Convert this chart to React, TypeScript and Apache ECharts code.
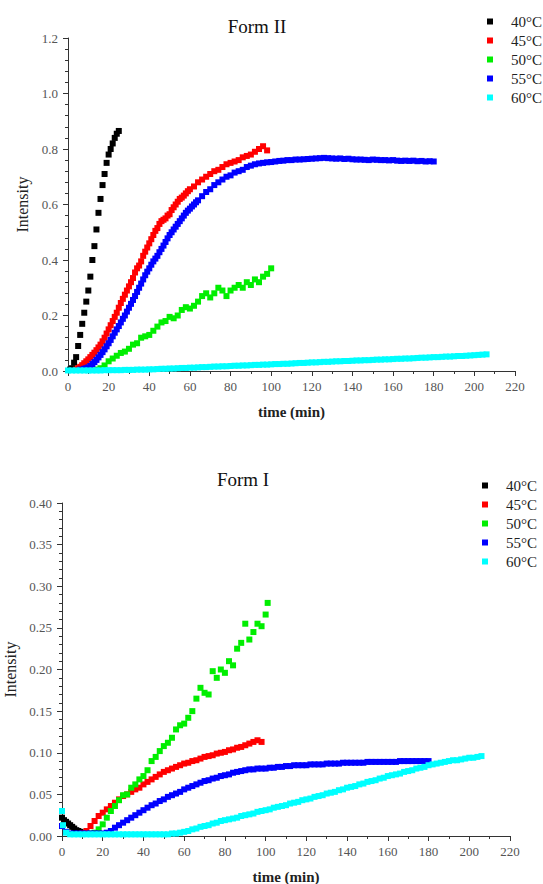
import React, { useEffect, useRef } from "react";
import * as echarts from "echarts";

// ---------- data: Form II ----------
const names = ["40°C", "45°C", "50°C", "55°C", "60°C"];
const colors = ["#000000", "#ff0000", "#00ee00", "#0000ff", "#00ffff"];
const xTicks = { min: 0, max: 220, interval: 20 };

const f2_40: number[][] = [[1,0.005],[2,0.01],[3,0.03],[4,0.05],[5,0.09],[6,0.13],[7,0.17],[8,0.21],[9,0.25],[10,0.29],[11,0.34],[12,0.40],[13,0.45],[14,0.51],[15,0.57],[16,0.62],[17,0.67],[18,0.71],[19,0.75],[20,0.78],[21,0.80],[22,0.82],[23,0.84],[24,0.855],[25,0.865]];
const f2_45: number[][] = [[4,0.005],[5,0.01],[6,0.015],[7,0.021],[8,0.028],[9,0.035],[10,0.042],[11,0.05],[12,0.058],[13,0.066],[14,0.075],[15,0.085],[16,0.095],[17,0.107],[18,0.12],[19,0.135],[20,0.15],[21,0.165],[22,0.18],[23,0.195],[24,0.21],[25,0.228],[26,0.245],[27,0.26],[28,0.275],[29,0.29],[30,0.305],[31,0.32],[32,0.335],[33,0.355],[34,0.37],[35,0.38],[36,0.395],[37,0.415],[38,0.43],[39,0.445],[40,0.46],[41,0.475],[42,0.49],[43,0.505],[44,0.515],[45,0.53],[46,0.54],[47,0.545],[48,0.55],[49,0.56],[50,0.565],[51,0.58],[52,0.59],[53,0.60],[54,0.61],[55,0.62],[56,0.625],[57,0.632],[58,0.64],[59,0.648],[60,0.655],[62,0.665],[64,0.68],[66,0.69],[68,0.70],[70,0.71],[72,0.72],[74,0.725],[76,0.735],[78,0.745],[80,0.75],[82,0.755],[84,0.76],[86,0.77],[88,0.775],[90,0.78],[92,0.79],[94,0.80],[96,0.81],[98,0.795]];
const f2_50: number[][] = [[14,0.005],[16,0.01],[18,0.02],[20,0.035],[22,0.045],[24,0.055],[26,0.065],[28,0.07],[30,0.08],[32,0.095],[34,0.10],[36,0.12],[38,0.125],[40,0.13],[42,0.145],[44,0.16],[46,0.175],[48,0.18],[50,0.195],[52,0.19],[54,0.20],[56,0.22],[58,0.23],[60,0.225],[62,0.235],[64,0.25],[66,0.27],[68,0.28],[70,0.265],[72,0.28],[74,0.30],[76,0.29],[78,0.27],[80,0.29],[82,0.30],[84,0.31],[86,0.30],[88,0.32],[90,0.31],[92,0.33],[94,0.32],[96,0.34],[98,0.35],[100,0.37]];
const f2_55: number[][] = [[6,0.005],[8,0.008],[9,0.01],[10,0.013],[11,0.018],[12,0.025],[13,0.032],[14,0.04],[15,0.049],[16,0.058],[17,0.068],[18,0.078],[19,0.089],[20,0.10],[21,0.112],[22,0.125],[23,0.138],[24,0.15],[25,0.162],[26,0.175],[27,0.188],[28,0.20],[29,0.214],[30,0.228],[31,0.242],[32,0.256],[33,0.27],[34,0.285],[35,0.30],[36,0.315],[37,0.33],[38,0.345],[39,0.358],[40,0.37],[41,0.383],[42,0.395],[43,0.405],[44,0.415],[45,0.428],[46,0.44],[47,0.452],[48,0.465],[49,0.478],[50,0.49],[51,0.50],[52,0.51],[53,0.52],[54,0.53],[55,0.54],[56,0.55],[57,0.56],[58,0.57],[59,0.578],[60,0.585],[61,0.593],[62,0.60],[63,0.608],[64,0.615],[66,0.63],[68,0.645],[70,0.655],[72,0.67],[74,0.68],[76,0.69],[78,0.70],[80,0.705],[82,0.715],[84,0.72],[86,0.725],[88,0.735],[90,0.74],[92,0.745],[94,0.748],[96,0.75],[98,0.752],[100,0.753],[102,0.755],[104,0.757],[106,0.758],[108,0.76],[110,0.76],[112,0.762],[114,0.762],[116,0.763],[118,0.764],[120,0.765],[122,0.766],[124,0.767],[126,0.768],[128,0.767],[130,0.766],[132,0.765],[134,0.766],[136,0.764],[138,0.765],[140,0.763],[142,0.762],[144,0.762],[146,0.761],[148,0.76],[150,0.762],[152,0.761],[154,0.76],[156,0.76],[158,0.759],[160,0.76],[162,0.758],[164,0.757],[166,0.758],[168,0.757],[170,0.758],[172,0.756],[174,0.757],[176,0.755],[178,0.756],[180,0.755]];
const f2_60: number[][] = [[0,0.002],[2,0.002],[4,0.002],[6,0.002],[8,0.002],[10,0.002],[12,0.002],[14,0.002],[16,0.002],[18,0.003],[20,0.003],[22,0.003],[24,0.003],[26,0.003],[28,0.004],[30,0.004],[32,0.004],[34,0.005],[36,0.005],[38,0.005],[40,0.006],[42,0.006],[44,0.007],[46,0.008],[48,0.008],[50,0.009],[52,0.009],[54,0.010],[56,0.011],[58,0.011],[60,0.012],[62,0.012],[64,0.013],[66,0.014],[68,0.014],[70,0.015],[72,0.016],[74,0.016],[76,0.017],[78,0.017],[80,0.018],[82,0.019],[84,0.019],[86,0.020],[88,0.020],[90,0.021],[92,0.022],[94,0.022],[96,0.023],[98,0.023],[100,0.024],[102,0.025],[104,0.025],[106,0.026],[108,0.026],[110,0.027],[112,0.028],[114,0.029],[116,0.029],[118,0.030],[120,0.031],[122,0.031],[124,0.032],[126,0.033],[128,0.033],[130,0.034],[132,0.035],[134,0.035],[136,0.036],[138,0.036],[140,0.037],[142,0.038],[144,0.038],[146,0.039],[148,0.039],[150,0.040],[152,0.041],[154,0.041],[156,0.042],[158,0.042],[160,0.043],[162,0.044],[164,0.044],[166,0.045],[168,0.045],[170,0.046],[172,0.047],[174,0.048],[176,0.048],[178,0.049],[180,0.050],[182,0.050],[184,0.051],[186,0.052],[188,0.052],[190,0.053],[192,0.054],[194,0.054],[196,0.055],[198,0.056],[200,0.057],[202,0.058],[204,0.059],[206,0.060]];

// ---------- data: Form I ----------
const f1_40: number[][] = [[0,0.022],[1,0.019],[2,0.017],[3,0.015],[4,0.013],[5,0.011],[6,0.009],[7,0.007],[8,0.006],[9,0.005],[10,0.004]];
const f1_45: number[][] = [[10,0.003],[12,0.006],[14,0.012],[16,0.018],[18,0.024],[20,0.028],[22,0.032],[24,0.036],[26,0.040],[28,0.044],[30,0.048],[32,0.050],[34,0.053],[36,0.056],[38,0.058],[40,0.062],[42,0.065],[44,0.068],[46,0.071],[48,0.074],[50,0.077],[52,0.079],[54,0.081],[56,0.083],[58,0.085],[60,0.087],[62,0.088],[64,0.090],[66,0.091],[68,0.093],[70,0.095],[72,0.096],[74,0.097],[76,0.099],[78,0.100],[80,0.101],[82,0.103],[84,0.104],[86,0.106],[88,0.107],[90,0.109],[92,0.111],[94,0.113],[96,0.115],[98,0.113]];
const f1_50: number[][] = [[14,0.003],[16,0.004],[18,0.008],[20,0.014],[22,0.022],[24,0.030],[26,0.036],[28,0.043],[30,0.049],[32,0.050],[34,0.058],[36,0.062],[38,0.068],[40,0.072],[42,0.079],[44,0.090],[46,0.095],[48,0.102],[50,0.108],[52,0.112],[54,0.118],[56,0.128],[58,0.133],[60,0.135],[62,0.142],[64,0.150],[66,0.165],[68,0.178],[70,0.172],[72,0.170],[74,0.198],[76,0.190],[78,0.200],[80,0.196],[82,0.210],[84,0.205],[86,0.225],[88,0.232],[90,0.255],[92,0.236],[94,0.245],[96,0.255],[98,0.252],[100,0.266],[101,0.280]];
const f1_55: number[][] = [[0,0.012],[2,0.005],[4,0.003],[6,0.003],[8,0.003],[10,0.003],[12,0.003],[14,0.003],[16,0.003],[18,0.003],[20,0.003],[22,0.004],[24,0.006],[26,0.010],[28,0.013],[30,0.016],[32,0.019],[34,0.022],[36,0.025],[38,0.028],[40,0.031],[42,0.034],[44,0.037],[46,0.039],[48,0.042],[50,0.044],[52,0.047],[54,0.049],[56,0.051],[58,0.053],[60,0.056],[62,0.058],[64,0.060],[66,0.062],[68,0.064],[70,0.066],[72,0.067],[74,0.069],[76,0.070],[78,0.072],[80,0.073],[82,0.074],[84,0.076],[86,0.077],[88,0.078],[90,0.079],[92,0.080],[94,0.080],[96,0.081],[98,0.081],[100,0.081],[102,0.082],[104,0.082],[106,0.083],[108,0.083],[110,0.084],[112,0.084],[114,0.085],[116,0.085],[118,0.085],[120,0.085],[122,0.086],[124,0.086],[126,0.086],[128,0.086],[130,0.087],[132,0.087],[134,0.087],[136,0.087],[138,0.088],[140,0.088],[142,0.088],[144,0.088],[146,0.088],[148,0.088],[150,0.089],[152,0.089],[154,0.089],[156,0.089],[158,0.089],[160,0.089],[162,0.089],[164,0.089],[166,0.090],[168,0.090],[170,0.090],[172,0.090],[174,0.090],[176,0.090],[178,0.090],[180,0.090]];
const f1_60: number[][] = [[0,0.030],[0.5,0.013],[2,0.004],[4,0.002],[6,0.002],[8,0.002],[10,0.002],[12,0.002],[14,0.002],[16,0.002],[18,0.002],[20,0.002],[22,0.002],[24,0.002],[26,0.002],[28,0.002],[30,0.002],[32,0.002],[34,0.002],[36,0.002],[38,0.002],[40,0.002],[42,0.002],[44,0.002],[46,0.002],[48,0.002],[50,0.002],[52,0.002],[54,0.003],[56,0.003],[58,0.004],[60,0.005],[62,0.006],[64,0.008],[66,0.009],[68,0.011],[70,0.012],[72,0.013],[74,0.015],[76,0.016],[78,0.018],[80,0.019],[82,0.020],[84,0.021],[86,0.022],[88,0.024],[90,0.025],[92,0.026],[94,0.027],[96,0.029],[98,0.030],[100,0.031],[102,0.032],[104,0.034],[106,0.035],[108,0.036],[110,0.037],[112,0.039],[114,0.040],[116,0.041],[118,0.043],[120,0.044],[122,0.045],[124,0.047],[126,0.048],[128,0.049],[130,0.051],[132,0.052],[134,0.053],[136,0.055],[138,0.056],[140,0.058],[142,0.059],[144,0.060],[146,0.062],[148,0.063],[150,0.065],[152,0.066],[154,0.067],[156,0.069],[158,0.070],[160,0.072],[162,0.073],[164,0.074],[166,0.075],[168,0.077],[170,0.078],[172,0.079],[174,0.081],[176,0.082],[178,0.083],[180,0.085],[182,0.086],[184,0.087],[186,0.088],[188,0.089],[190,0.090],[192,0.091],[194,0.091],[196,0.092],[198,0.093],[200,0.094],[202,0.094],[204,0.095],[206,0.096]];

const formII = [f2_40, f2_45, f2_50, f2_55, f2_60];
const formI = [f1_40, f1_45, f1_50, f1_55, f1_60];

const SERIF = "Liberation Serif";

function makeXAxis(gridIndex: number) {
  return {
    type: "value",
    gridIndex,
    min: xTicks.min,
    max: xTicks.max,
    interval: xTicks.interval,
    name: "time (min)",
    nameLocation: "middle",
    nameGap: 33,
    nameTextStyle: { fontFamily: SERIF, fontSize: 15, fontWeight: "bold", color: "#222" },
    axisLine: { show: true, lineStyle: { color: "#333", width: 1 } },
    axisTick: { show: true, length: 5, lineStyle: { color: "#333" } },
    minorTick: { show: true, splitNumber: 2, length: 3, lineStyle: { color: "#333" } },
    splitLine: { show: false },
    axisLabel: { fontFamily: SERIF, fontSize: 13, color: "#555", margin: 9 },
  };
}

function makeYAxis(gridIndex: number, max: number, interval: number, digits: number, nameGap: number) {
  return {
    type: "value",
    gridIndex,
    min: 0,
    max,
    interval,
    name: "Intensity",
    nameLocation: "middle",
    nameGap,
    nameTextStyle: { fontFamily: SERIF, fontSize: 16, color: "#222" },
    axisLine: { show: true, lineStyle: { color: "#333", width: 1 } },
    axisTick: { show: true, length: 5, lineStyle: { color: "#333" } },
    minorTick: { show: true, splitNumber: 5, length: 3, lineStyle: { color: "#333" } },
    splitLine: { show: false },
    axisLabel: {
      fontFamily: SERIF,
      fontSize: 13,
      color: "#555",
      margin: 10,
      formatter: (v: number) => v.toFixed(digits),
    },
  };
}

function makeSeries(sets: number[][][], axisIndex: number) {
  return sets.map((data, i) => ({
    type: "scatter",
    name: names[i],
    xAxisIndex: axisIndex,
    yAxisIndex: axisIndex,
    data,
    symbol: "rect",
    symbolSize: 6,
    itemStyle: { color: colors[i], opacity: 1 },
    emphasis: { disabled: true },
  }));
}

const LEGEND_ICON = "path://M0,0 L6,0 L6,6 L0,6 Z";

function makeLegend(right: number, top: number) {
  return {
    data: names,
    orient: "vertical",
    right,
    top,
    padding: 0,
    itemWidth: 32,
    itemHeight: 6,
    itemGap: 4,
    icon: LEGEND_ICON,
    textStyle: { fontFamily: SERIF, fontSize: 15, color: "#222" },
    selectedMode: false,
  };
}

export default function App() {
  const ref = useRef<HTMLDivElement>(null);
  useEffect(() => {
    if (!ref.current) return;
    const chart = echarts.init(ref.current, null, { renderer: "svg" });
    chart.setOption({
      animation: false,
      backgroundColor: "#ffffff",
      color: colors,
      textStyle: { fontFamily: SERIF },
      title: [
        {
          text: "Form II",
          left: 252,
          top: 12,
          textAlign: "center",
          textStyle: { fontFamily: SERIF, fontSize: 19, fontWeight: "normal", color: "#111" },
        },
        {
          text: "Form I",
          left: 238,
          top: 465,
          textAlign: "center",
          textStyle: { fontFamily: SERIF, fontSize: 19, fontWeight: "normal", color: "#111" },
        },
      ],
      legend: [makeLegend(1, 14), makeLegend(6, 478)],
      grid: [
        { left: 68, right: 28, top: 38, height: 333, containLabel: false, outerBoundsMode: "none" },
        { left: 62, right: 33, top: 503, height: 333, containLabel: false, outerBoundsMode: "none" },
      ],
      xAxis: [makeXAxis(0), makeXAxis(1)],
      yAxis: [makeYAxis(0, 1.2, 0.2, 1, 31), makeYAxis(1, 0.4, 0.05, 2, 34)],
      series: [...makeSeries(formII, 0), ...makeSeries(formI, 1)],
    });
    return () => chart.dispose();
  }, []);
  return (
    <div
      ref={ref}
      style={{ position: "fixed", left: 0, top: 0, width: 543, height: 884, background: "#fff" }}
    />
  );
}
